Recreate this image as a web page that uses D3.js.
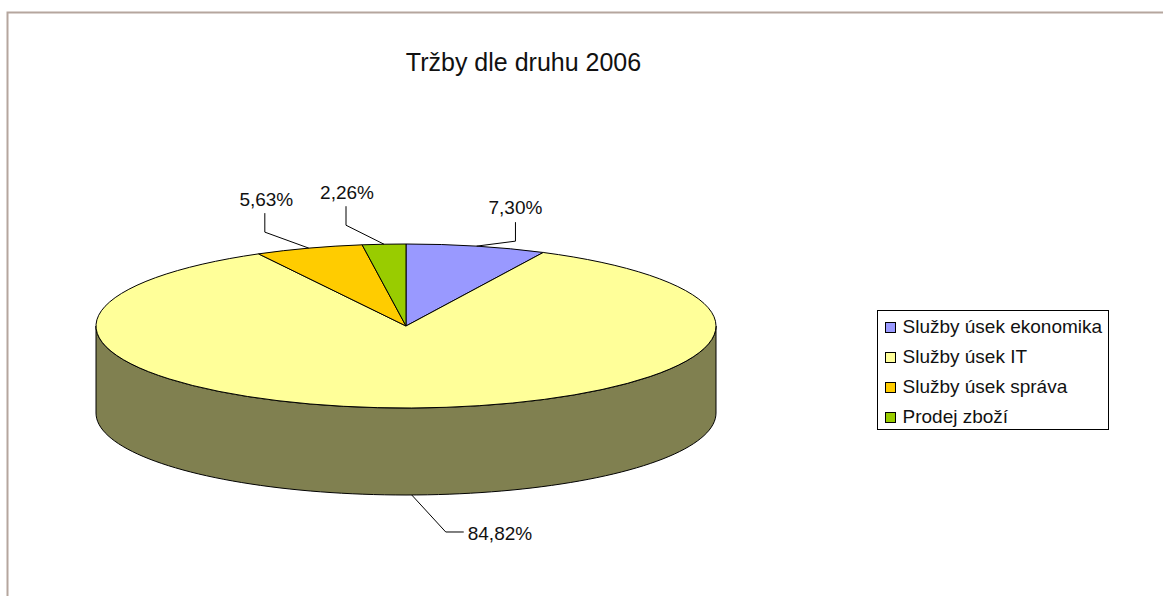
<!DOCTYPE html>
<html>
<head>
<meta charset="utf-8">
<script src="https://cdn.jsdelivr.net/npm/d3@7"></script>
<style>
  html, body { margin: 0; padding: 0; background: #fff; }
  svg { display: block; }
  text { font-family: "Liberation Sans", Arial, sans-serif; fill: #111; }
</style>
</head>
<body>
<svg id="chart" width="1163" height="596"></svg>
<script>
const categories = ['Služby úsek ekonomika', 'Služby úsek IT', 'Služby úsek správa', 'Prodej zboží']
const shares = [7.3, 84.82, 5.63, 2.26]
const shareLabels = ['7,30%', '84,82%', '5,63%', '2,26%']
const colors = ['#9999ff', '#ffff99', '#ffcc00', '#99cc00']
const title = 'Tržby dle druhu 2006'

const svg = d3.select('#chart')

const cx = 406,
  cy = 326,
  rx = 310,
  ry = 82,
  depth = 87

// chart frame, only top and left are visible in the window
svg
  .append('path')
  .attr('d', 'M7.5,596V12.5H1163')
  .attr('fill', 'none')
  .attr('stroke', '#b5a69e')
  .attr('stroke-width', 2)

svg
  .append('text')
  .attr('x', 523.5)
  .attr('y', 71)
  .attr('text-anchor', 'middle')
  .attr('font-size', 25)
  .text(title)

const slices = d3.pie().sort(null).value((d) => d)(shares)

// point on the tilted rim, angle is clockwise from the top
const rim = (a) => [cx + rx * Math.sin(a), cy - ry * Math.cos(a)]

// side wall: front half of the rim, pushed down by depth
const front = d3.range(90, 271, 2).map((deg) => (deg * Math.PI) / 180)
const side = d3
  .area()
  .x((a) => rim(a)[0])
  .y0((a) => rim(a)[1])
  .y1((a) => rim(a)[1] + depth)

svg
  .append('path')
  .attr('d', side(front))
  .attr('fill', '#808050')
  .attr('stroke', '#000')
  .attr('stroke-width', 1)

const arc = d3.arc().innerRadius(0).outerRadius(rx)

svg
  .append('g')
  .attr('transform', `translate(${cx},${cy}) scale(1,${ry / rx})`)
  .selectAll('path')
  .data(slices)
  .join('path')
  .attr('d', arc)
  .attr('fill', (d, i) => colors[i])
  .attr('stroke', '#000')
  .attr('stroke-width', 1)
  .attr('vector-effect', 'non-scaling-stroke')

// leader lines start at the middle of each slice's rim
const leaders = [
  { dx: 39, dy: -5, ex: 0, ey: -19, tx: 0, ty: -8 },
  { dx: 34, dy: 37, ex: 18, ey: 0, tx: 4, ty: 8 },
  { dx: -44, dy: -16, ex: 0, ey: -19, tx: 1.5, ty: -7 },
  { dx: -38, dy: -19, ex: 0, ey: -19, tx: 1, ty: -7 },
]

const labels = svg.append('g').selectAll('g').data(slices).join('g')

labels
  .append('path')
  .attr('fill', 'none')
  .attr('stroke', '#000')
  .attr('stroke-width', 1)
  .attr('d', (d, i) => {
    const mid = (d.startAngle + d.endAngle) / 2
    const [x, y] = rim(mid)
    const y0 = mid > Math.PI / 2 && mid < (3 * Math.PI) / 2 ? y + depth : y
    const l = leaders[i]
    return d3.line()([
      [x, y0],
      [x + l.dx, y0 + l.dy],
      [x + l.dx + l.ex, y0 + l.dy + l.ey],
    ])
  })

labels
  .append('text')
  .attr('font-size', 19)
  .attr('text-anchor', (d, i) => (i === 1 ? 'start' : 'middle'))
  .attr('x', (d, i) => {
    const l = leaders[i]
    return rim((d.startAngle + d.endAngle) / 2)[0] + l.dx + l.ex + l.tx
  })
  .attr('y', (d, i) => {
    const mid = (d.startAngle + d.endAngle) / 2
    const l = leaders[i]
    const y0 = rim(mid)[1] + (i === 1 ? depth : 0)
    return y0 + l.dy + l.ey + l.ty
  })
  .text((d, i) => shareLabels[i])

// legend
const legend = svg.append('g').attr('transform', 'translate(877.5,310.5)')

legend
  .append('rect')
  .attr('width', 231)
  .attr('height', 119)
  .attr('fill', '#fff')
  .attr('stroke', '#000')

const rowY = d3.scalePoint().domain(categories).range([17, 107])

const rows = legend
  .selectAll('g')
  .data(categories)
  .join('g')
  .attr('transform', (d) => `translate(0,${rowY(d)})`)

rows
  .append('rect')
  .attr('x', 8)
  .attr('y', -5)
  .attr('width', 10)
  .attr('height', 10)
  .attr('fill', (d, i) => colors[i])
  .attr('stroke', '#000')

rows
  .append('text')
  .attr('x', 25)
  .attr('y', 5.5)
  .attr('font-size', 19)
  .text((d) => d)
</script>
</body>
</html>
